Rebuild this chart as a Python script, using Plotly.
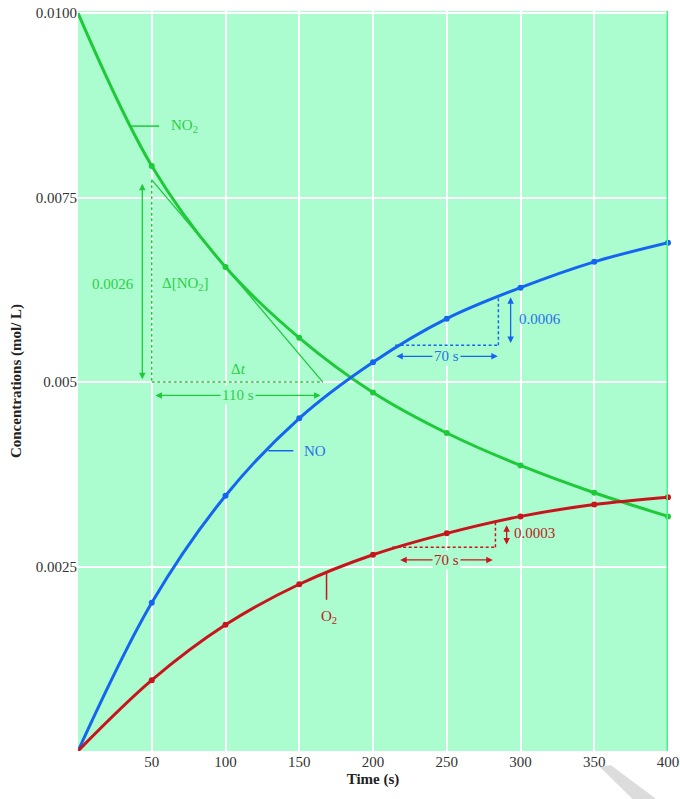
import plotly.graph_objects as go

# Decomposition of NO2: 2 NO2 -> 2 NO + O2
time_s = [0, 50, 100, 150, 200, 250, 300, 350, 400]
no2 = [0.0100, 0.00793, 0.00656, 0.0056, 0.00486, 0.00431, 0.00387, 0.0035, 0.00318]
no = [0.0, 0.00201, 0.00346, 0.00451, 0.00527, 0.00586, 0.00628, 0.00663, 0.00689]
o2 = [0.0, 0.00096, 0.00171, 0.00226, 0.00266, 0.00295, 0.00318, 0.00334, 0.00344]

x_ticks = [50, 100, 150, 200, 250, 300, 350, 400]
y_ticks = [0.0025, 0.005, 0.0075, 0.0100]
y_tick_text = ["0.0025", "0.005", "0.0075", "0.0100"]

GREEN = "#1fc93a"
GREEN_TXT = "#2bcf45"
BLUE = "#1565f0"
BLUE_TXT = "#2a70ea"
RED = "#c8141c"
RED_TXT = "#c0181e"
BG = "#abfdcf"
SERIF = "Liberation Serif, Times New Roman, serif"

# tangent to NO2 at t = 100 s: slope = -0.0026 / 110 s
tan_t, tan_c, tan_dc, tan_dt = 100, 0.00656, 0.0026, 110
tan_x0, tan_x1 = 50, 166
slope = -tan_dc / tan_dt
tan_y0 = tan_c + slope * (tan_x0 - tan_t)
tan_y1 = tan_c + slope * (tan_x1 - tan_t)

# chord triangles for NO and O2 over 70 s
no_t0, no_t1, no_c0, no_c1 = 215, 285, 0.0055, 0.00616
o2_t0, o2_t1, o2_c0, o2_c1 = 213, 283, 0.00276, 0.00313

fig = go.Figure()

def curve(y, color):
    fig.add_trace(go.Scatter(
        x=time_s, y=y, mode="lines",
        line=dict(color=color, width=3, shape="spline", smoothing=1.0),
        showlegend=False, hoverinfo="skip"))
    fig.add_trace(go.Scatter(
        x=time_s[1:], y=y[1:], mode="markers",
        marker=dict(color=color, size=6, line=dict(width=0)),
        showlegend=False, hoverinfo="skip", cliponaxis=False))

curve(no2, GREEN)
curve(no, BLUE)
curve(o2, RED)

shapes = []
def seg(x0, y0, x1, y1, color, width=1.5, dash=None):
    shapes.append(dict(type="line", xref="x", yref="y", x0=x0, y0=y0, x1=x1, y1=y1,
                       line=dict(color=color, width=width, dash=dash), layer="above"))

FINE_DASH = "3px,2.5px"

# NO2 tangent construction
seg(tan_x0, tan_y0, tan_x1, tan_y1, GREEN, 1.3)
seg(tan_x0, tan_y0, tan_x0, 0.0050, GREEN, 1.5, FINE_DASH)
seg(tan_x0, 0.0050, tan_x1, 0.0050, GREEN, 1.5, FINE_DASH)
# NO2 label leader
seg(35, 0.00847, 55, 0.00847, GREEN, 1.5)

# NO chord triangle
seg(no_t0, no_c0, no_t1, no_c0, BLUE, 1.5, FINE_DASH)
seg(no_t1, no_c0, no_t1, no_c1, BLUE, 1.5, FINE_DASH)
seg(129, 0.00407, 146, 0.00407, BLUE, 1.5)

# O2 chord triangle
seg(o2_t0, o2_c0, o2_t1, o2_c0, RED, 1.5, FINE_DASH)
seg(o2_t1, o2_c0, o2_t1, o2_c1, RED, 1.5, FINE_DASH)
seg(168.5, 0.00242, 168.5, 0.00205, RED, 1.5)

# brighter right edge of the plot area
seg(400, 0, 400, 0.01003, "#4fee8c", 3)

# page-curl shadow in the lower right corner
shapes.append(dict(type="path", xref="paper", yref="paper", layer="above",
                   path="M 0.885 -0.022 L 0.903 -0.019 L 0.98 -0.065 L 0.94 -0.065 Z",
                   fillcolor="#dcdcdc", line=dict(width=0)))

ann = []
def text(x, y, s, color, size=15, xanchor="center", bg=None):
    ann.append(dict(x=x, y=y, xref="x", yref="y", text=s, showarrow=False,
                    font=dict(family=SERIF, size=size, color=color),
                    xanchor=xanchor, yanchor="middle",
                    bgcolor=bg, borderpad=1))

def darrow(x0, y0, x1, y1, color):
    ann.append(dict(x=x1, y=y1, ax=x0, ay=y0, xref="x", yref="y", axref="x", ayref="y",
                    text="", showarrow=True, arrowhead=2, arrowsize=1, arrowwidth=1.3,
                    arrowside="end+start", arrowcolor=color))

# NO2 annotations
text(61.5, 0.00847, "NO<sub>2</sub>", GREEN_TXT, xanchor="left")
darrow(43.6, 0.00502, 43.6, 0.00769, GREEN)
text(39, 0.00633, "0.0026", GREEN_TXT, xanchor="right")
text(55.5, 0.00633, "Δ[NO<sub>2</sub>]", GREEN_TXT, xanchor="left")
text(108.5, 0.00518, "Δ<i>t</i>", GREEN_TXT)
darrow(51.5, 0.00482, 164.5, 0.00482, GREEN)
text(108.5, 0.00482, "110 s", GREEN_TXT, bg=BG)

# NO annotations
text(152, 0.00407, "NO", BLUE_TXT, xanchor="left")
darrow(293.3, 0.00551, 293.3, 0.00615, BLUE)
text(297.5, 0.00585, "0.0006", BLUE_TXT, xanchor="left")
darrow(214.8, 0.00535, 284.6, 0.00535, BLUE)
text(249.5, 0.00535, "70 s", BLUE_TXT, bg=BG)

# O2 annotations
text(170, 0.00182, "O<sub>2</sub>", RED_TXT)
darrow(290.6, 0.00278, 290.6, 0.00306, RED)
text(294.5, 0.00296, "0.0003", RED_TXT, xanchor="left")
darrow(217.4, 0.00259, 281.2, 0.00259, RED)
text(249.5, 0.00259, "70 s", RED_TXT, bg=BG)

fig.update_layout(
    width=680, height=799,
    margin=dict(l=78, r=12, t=11, b=48),
    paper_bgcolor="white", plot_bgcolor=BG,
    font=dict(family=SERIF, size=15, color="#333333"),
    shapes=shapes, annotations=ann,
    xaxis=dict(range=[0, 400], tickvals=x_ticks, ticks="", showline=False, zeroline=False,
               showgrid=True, gridcolor="white", gridwidth=1.5, ticklabeloverflow="allow",
               automargin=False,
               tickfont=dict(family=SERIF, size=15, color="#333333"),
               title=dict(text="<b>Time (s)</b>", font=dict(family=SERIF, size=15, color="#222222"),
                          standoff=4)),
    yaxis=dict(range=[0, 0.01003], tickvals=y_ticks, ticktext=y_tick_text, ticks="",
               showline=False, zeroline=False, showgrid=True, gridcolor="white", gridwidth=1.5,
               ticklabeloverflow="allow", automargin=False,
               tickfont=dict(family=SERIF, size=15, color="#333333"),
               title=dict(text="<b>Concentrations (mol/ L)</b>",
                          font=dict(family=SERIF, size=15, color="#222222"), standoff=10)),
)

fig.write_html("out.html")
